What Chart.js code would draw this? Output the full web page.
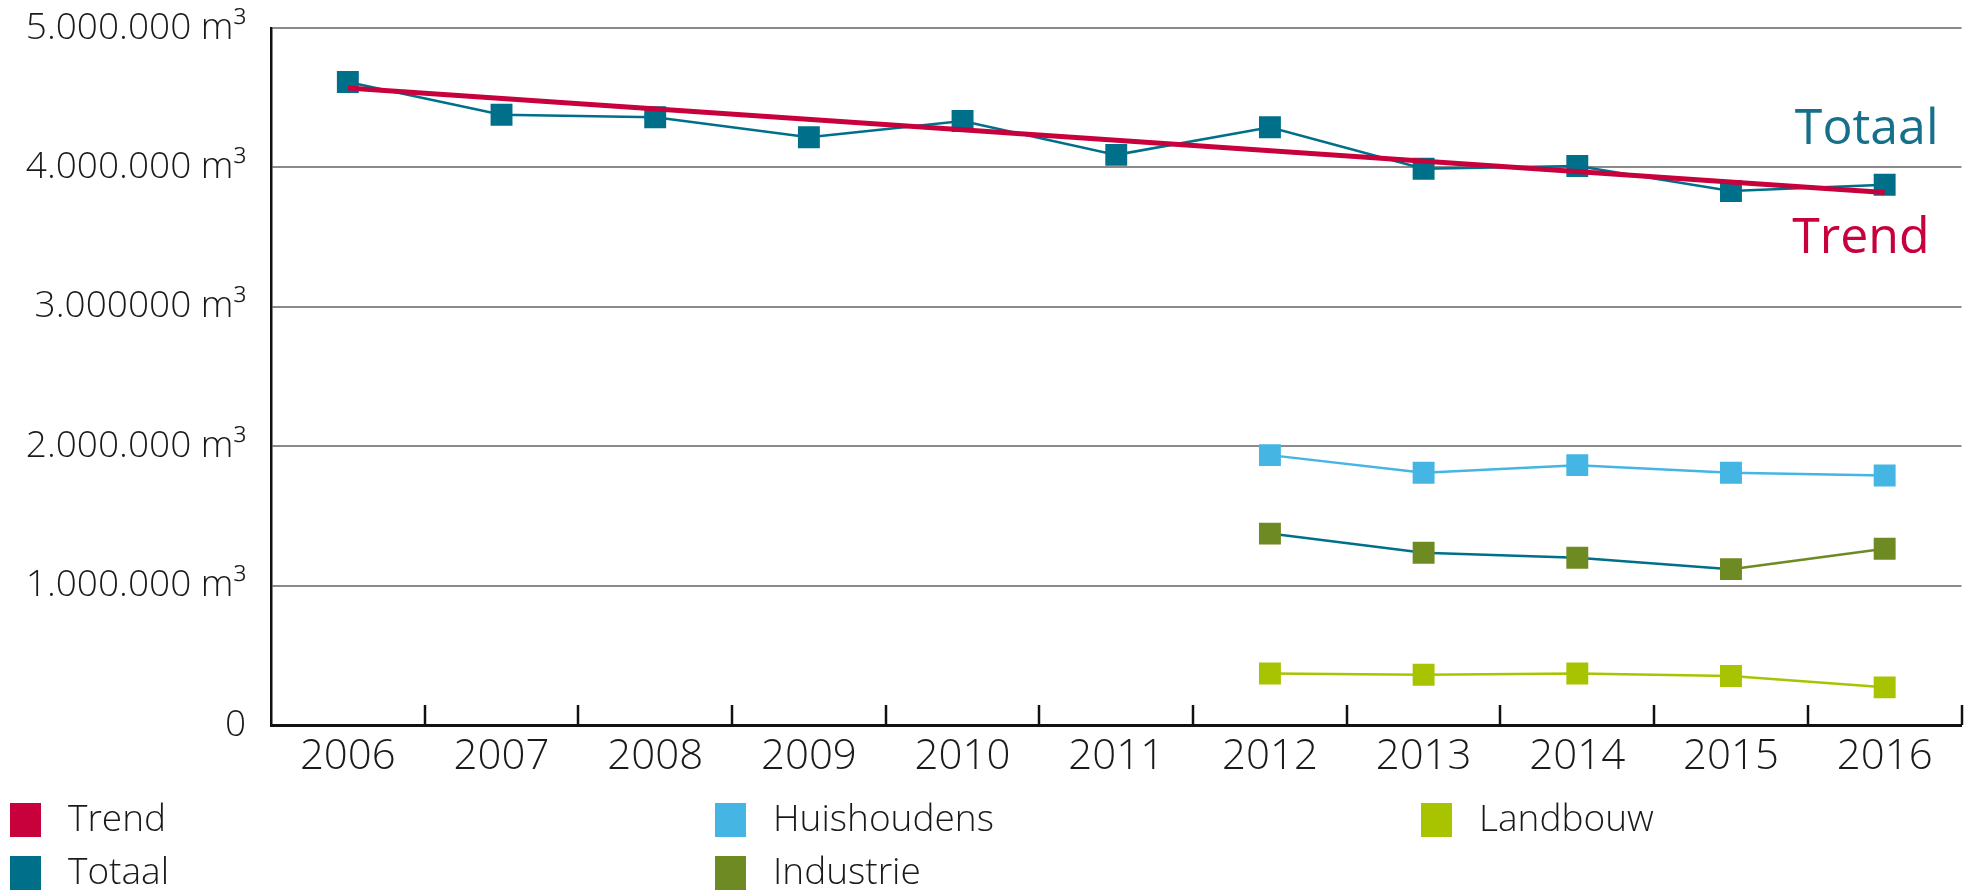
<!DOCTYPE html>
<html>
<head>
<meta charset="utf-8">
<script src="https://cdn.jsdelivr.net/npm/chart.js@4.4.1/dist/chart.umd.min.js"></script>
<style>
  html, body { margin: 0; padding: 0; background: #fff; overflow: hidden; }
  #wrap { width: 1977px; height: 895px; position: relative; }
  canvas { display: block; }
</style>
</head>
<body>
<div id="wrap"><canvas id="chart"></canvas></div>
<script>
const years = ['2006', '2007', '2008', '2009', '2010', '2011', '2012', '2013', '2014', '2015', '2016'];
const trend = [4570000, null, null, null, null, null, null, null, null, null, 3820000];
const totaal = [4613000, 4378000, 4360000, 4216000, 4333000, 4090000, 4288000, 3990000, 4010000, 3830000, 3876000];
const huishoudens = [null, null, null, null, null, null, 1936000, 1810000, 1864000, 1810000, 1790000];
const industrie = [null, null, null, null, null, null, 1373000, 1236000, 1200000, 1118000, 1264000];
const landbouw = [null, null, null, null, null, null, 369000, 360000, 369000, 351000, 270000];
const yTickLabels = ['0', '1.000.000 m³', '2.000.000 m³', '3.000000 m³', '4.000.000 m³', '5.000.000 m³'];

const FONT = "'Open Sans', 'DejaVu Sans', sans-serif";
const RED = '#c8003c', TEAL = '#006f8a', BLUE = '#45b5e3', OLIVE = '#6e8a22', LIME = '#a8c400';

// ticks pointing up into the plot, between the years
const innerTicks = {
  id: 'innerTicks',
  afterDatasetsDraw(chart) {
    const { ctx, chartArea: a } = chart;
    const n = years.length, step = (a.right - a.left) / n;
    ctx.save();
    ctx.strokeStyle = '#111';
    ctx.lineWidth = 2.5;
    for (let i = 1; i <= n; i++) {
      const x = Math.round(a.left + i * step);
      ctx.beginPath();
      ctx.moveTo(x, a.bottom);
      ctx.lineTo(x, a.bottom - 20);
      ctx.stroke();
    }
    ctx.restore();
  }
};

// "Totaal" / "Trend" labels at the right end
const endLabels = {
  id: 'endLabels',
  afterDatasetsDraw(chart) {
    const { ctx, chartArea: a, scales: { y } } = chart;
    ctx.save();
    ctx.font = '400 50px ' + FONT;
    ctx.textAlign = 'right';
    ctx.textBaseline = 'middle';
    ctx.fillStyle = '#17708a';
    ctx.fillText('Totaal', a.right - 23, y.getPixelForValue(totaal[totaal.length - 1]) - 55);
    ctx.fillStyle = RED;
    ctx.fillText('Trend', a.right - 32, y.getPixelForValue(trend[trend.length - 1]) + 46);
    ctx.restore();
  }
};

// legend in columns: Trend/Totaal, Huishoudens/Industrie, Landbouw
const gridLegend = {
  id: 'gridLegend',
  afterDraw(chart) {
    const { ctx } = chart;
    const colX = [10, 715, 1421], rowY = [820, 873];
    ctx.save();
    ctx.font = '300 37px ' + FONT;
    ctx.textBaseline = 'middle';
    chart.data.datasets.forEach((ds, i) => {
      const x = colX[Math.floor(i / 2)], y = rowY[i % 2];
      ctx.fillStyle = ds.legendColor;
      ctx.fillRect(x, y - 17, 31, 34);
      ctx.fillStyle = '#1a1a1a';
      ctx.fillText(ds.label, x + 58, y);
    });
    ctx.restore();
  }
};

const line = (label, data, color, extra) => Object.assign({
  label, data,
  borderColor: color,
  backgroundColor: color,
  legendColor: color,
  borderWidth: 2.5,
  pointStyle: 'rect',
  pointRadius: 15.5,
  pointHoverRadius: 15.5,
  pointBorderWidth: 0,
  tension: 0
}, extra || {});

new Chart(document.getElementById('chart'), {
  type: 'line',
  data: {
    labels: years,
    datasets: [
      line('Trend', trend, RED, { borderWidth: 5, pointRadius: 0, pointHoverRadius: 0, spanGaps: true }),
      line('Totaal', totaal, TEAL),
      line('Huishoudens', huishoudens, BLUE),
      line('Industrie', industrie, OLIVE, {
        segment: { borderColor: c => c.p1DataIndex === years.length - 1 ? OLIVE : TEAL }
      }),
      line('Landbouw', landbouw, LIME)
    ]
  },
  options: {
    responsive: true,
    maintainAspectRatio: false,
    animation: false,
    layout: { padding: { top: 0, right: -10, left: 0, bottom: 106 } },
    plugins: { legend: { display: false }, tooltip: { enabled: false } },
    scales: {
      x: {
        offset: true,
        grid: { display: true, offset: true, drawOnChartArea: false, drawTicks: false },
        border: { display: true, color: '#111', width: 3 },
        ticks: { color: '#1a1a1a', font: { family: FONT, size: 42, weight: 300 }, padding: 7, maxRotation: 0 },
        afterFit: s => { s.height = 64; s.paddingLeft = 0; s.paddingRight = 0; }
      },
      y: {
        min: 0,
        max: 5000000,
        ticks: {
          stepSize: 1000000,
          color: '#1a1a1a',
          font: { family: FONT, size: 37, weight: 300 },
          padding: 25,
          callback: (v, i) => yTickLabels[i]
        },
        grid: { color: '#8a8a8a', lineWidth: 2, drawTicks: false },
        border: { display: true, color: '#111', width: 2.5 },
        afterFit: s => { s.width = 271; s.paddingTop = 28; s.paddingBottom = 0; s.paddingLeft = 0; s.paddingRight = 0; }
      }
    }
  },
  plugins: [innerTicks, endLabels, gridLegend]
});
</script>
</body>
</html>
